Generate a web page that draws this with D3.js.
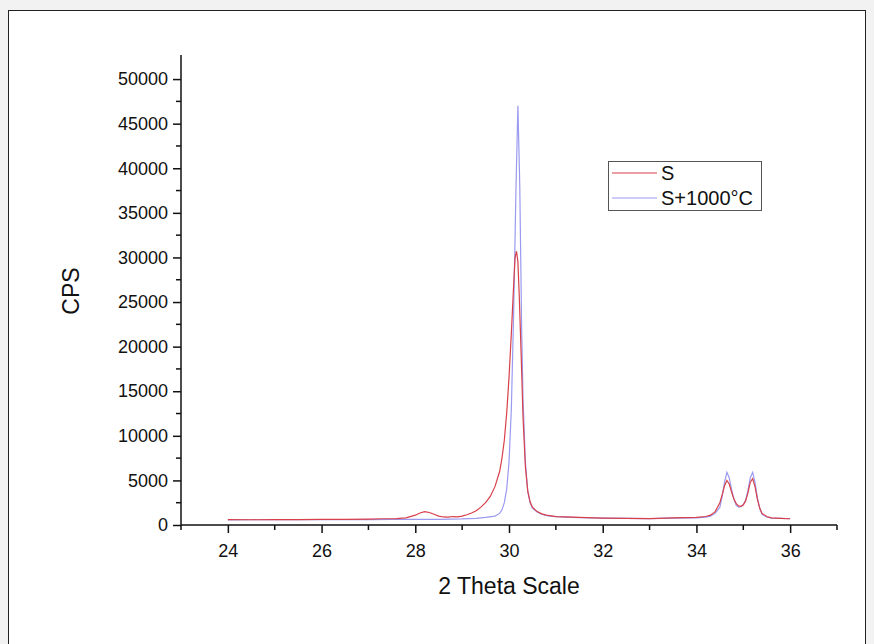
<!DOCTYPE html>
<html>
<head>
<meta charset="utf-8">
<script src="https://cdn.jsdelivr.net/npm/d3@7"></script>
<style>
  html, body { margin: 0; padding: 0; background: #f2f2f2; }
  svg { display: block; font-family: "Liberation Sans", Arial, sans-serif; }
</style>
</head>
<body>
<svg id="chart" width="874" height="644"></svg>
<script>
// XRD pattern: 2-theta positions and counts per second for both samples
const thetaS = [24.0, 24.5, 25.0, 25.5, 26.0, 26.5, 27.0, 27.3, 27.6, 27.8, 28.0, 28.1, 28.2, 28.3, 28.4, 28.5,
  28.6, 28.7, 28.8, 28.9, 29.0, 29.1, 29.2, 29.3, 29.4, 29.5, 29.6, 29.7, 29.8, 29.85, 29.9, 29.95,
  30.0, 30.05, 30.1, 30.13, 30.16, 30.19, 30.22, 30.26, 30.3, 30.35, 30.4, 30.45, 30.5, 30.6, 30.7, 30.8,
  31.0, 31.2, 31.5, 32.0, 32.5, 33.0, 33.5, 34.0, 34.2, 34.3, 34.4, 34.5, 34.55, 34.6, 34.65, 34.7,
  34.75, 34.8, 34.85, 34.9, 34.95, 35.0, 35.05, 35.1, 35.15, 35.2, 35.25, 35.3, 35.35, 35.4, 35.5,
  35.6, 35.8, 36.0];
const cpsS = [600, 590, 600, 610, 620, 630, 660, 700, 720, 800, 1100, 1350, 1500, 1400, 1200, 1000,
  900, 880, 950, 920, 1000, 1150, 1350, 1600, 2000, 2500, 3200, 4300, 6000, 7500, 9500, 12500,
  16500, 21500, 27000, 30000, 30700, 29500, 25500, 19000, 12000, 6500, 3800, 2600, 2000, 1500, 1250, 1100,
  950, 900, 850, 780, 750, 720, 800, 850, 950, 1100, 1500, 2500, 3400, 4400, 5000, 4600,
  3700, 2900, 2400, 2150, 2100, 2250, 2700, 3600, 4800, 5200, 4300, 2900, 1900, 1300, 950,
  800, 750, 700];

const thetaH = [24.0, 24.5, 25.0, 25.5, 26.0, 26.5, 27.0, 27.5, 28.0, 28.5, 29.0, 29.3, 29.5, 29.7,
  29.8, 29.85, 29.9, 29.95, 30.0, 30.05, 30.1, 30.15, 30.19, 30.23, 30.27, 30.3, 30.35, 30.4, 30.45,
  30.5, 30.6, 30.7, 30.8, 31.0, 31.2, 31.5, 32.0, 32.5, 33.0, 33.5, 34.0, 34.2, 34.3, 34.4, 34.5,
  34.55, 34.6, 34.65, 34.7, 34.75, 34.8, 34.85, 34.9, 34.95, 35.0, 35.05, 35.1, 35.15, 35.2, 35.25,
  35.3, 35.35, 35.4, 35.5, 35.6, 35.8, 36.0];
const cpsH = [580, 590, 590, 600, 600, 610, 610, 620, 620, 640, 680, 750, 850, 1000,
  1300, 1700, 2500, 4000, 7000, 13000, 24000, 38000, 47000, 38000, 22000, 14000, 7000, 3800, 2500,
  1900, 1450, 1200, 1050, 930, 880, 830, 770, 740, 710, 760, 800, 880, 1000, 1300, 2000,
  3200, 4800, 5900, 5300, 4000, 2900, 2200, 2000, 2050, 2300, 2800, 3900, 5300, 5900, 4800,
  3100, 1900, 1200, 900, 780, 740, 700];

const seriesNames = ["S", "S+1000°C"];
const seriesColors = ["#d8404a", "#9a9af0"];
const xTicks = [24, 26, 28, 30, 32, 34, 36];
const yTicks = [0, 5000, 10000, 15000, 20000, 25000, 30000, 35000, 40000, 45000, 50000];

const FONT = "Liberation Sans, Arial, sans-serif";
const svg = d3.select("#chart");

// page frame
svg.append("rect").attr("x", 8.5).attr("y", 10.5).attr("width", 857).attr("height", 640)
  .attr("fill", "#fff").attr("stroke", "#222").attr("stroke-width", 1);

const x = d3.scaleLinear().domain([23, 37]).range([181, 837]);
const y = d3.scaleLinear().domain([0, 52700]).range([525, 55]);

// x axis: major ticks labelled, minor ticks at odd degrees
const xAxis = svg.append("g").attr("transform", "translate(0,525)");
xAxis.append("line").attr("x1", x(23)).attr("x2", x(37)).attr("stroke", "#111").attr("stroke-width", 1.5);
xAxis.call(d3.axisBottom(x).tickValues(xTicks).tickSize(8).tickPadding(11).tickFormat(d3.format("d")))
  .call(g => g.select(".domain").remove())
  .call(g => g.selectAll(".tick line").attr("stroke", "#111").attr("stroke-width", 1.5))
  .call(g => g.selectAll(".tick text").attr("font-size", 18).attr("fill", "#111").attr("font-family", FONT));
xAxis.selectAll(".minor").data(d3.range(23, 38, 2)).join("line")
  .attr("x1", d => x(d)).attr("x2", d => x(d)).attr("y1", 0).attr("y2", 5)
  .attr("stroke", "#111").attr("stroke-width", 1.5);

// y axis
const yAxis = svg.append("g").attr("transform", "translate(181,0)");
yAxis.append("line").attr("y1", y(0)).attr("y2", y(52700)).attr("stroke", "#111").attr("stroke-width", 1.5);
yAxis.call(d3.axisLeft(y).tickValues(yTicks).tickSize(8).tickPadding(5).tickFormat(d3.format("d")))
  .call(g => g.select(".domain").remove())
  .call(g => g.selectAll(".tick line").attr("stroke", "#111").attr("stroke-width", 1.5))
  .call(g => g.selectAll(".tick text").attr("font-size", 18).attr("fill", "#111").attr("font-family", FONT));
yAxis.selectAll(".minor").data(d3.range(2500, 52500, 5000)).join("line")
  .attr("x1", 0).attr("x2", -5).attr("y1", d => y(d)).attr("y2", d => y(d))
  .attr("stroke", "#111").attr("stroke-width", 1.5);

// axis titles
svg.append("text").attr("x", 509).attr("y", 594).attr("text-anchor", "middle")
  .attr("font-size", 23).attr("fill", "#111").text("2 Theta Scale");
svg.append("text").attr("transform", "translate(79,291) rotate(-90)").attr("text-anchor", "middle")
  .attr("font-size", 23).attr("fill", "#111").text("CPS");

// traces
const line = d3.line().x(d => x(d[0])).y(d => y(d[1]));
const dataH = d3.zip(thetaH, cpsH);
const dataS = d3.zip(thetaS, cpsS);
svg.append("path").datum(dataH).attr("d", line).attr("fill", "none")
  .attr("stroke", seriesColors[1]).attr("stroke-width", 1.2);
svg.append("path").datum(dataS).attr("d", line).attr("fill", "none")
  .attr("stroke", seriesColors[0]).attr("stroke-width", 1.2);

// legend
const lg = svg.append("g");
lg.append("rect").attr("x", 608.5).attr("y", 161.5).attr("width", 153).attr("height", 49)
  .attr("fill", "#fff").attr("stroke", "#555").attr("stroke-width", 1);
seriesNames.forEach((name, i) => {
  const yy = 173 + i * 25;
  lg.append("line").attr("x1", 612).attr("x2", 657).attr("y1", yy).attr("y2", yy)
    .attr("stroke", seriesColors[i]).attr("stroke-width", 1.2);
  lg.append("text").attr("x", 661).attr("y", yy + 7).attr("font-size", 20).attr("fill", "#111").text(name);
});
</script>
</body>
</html>
